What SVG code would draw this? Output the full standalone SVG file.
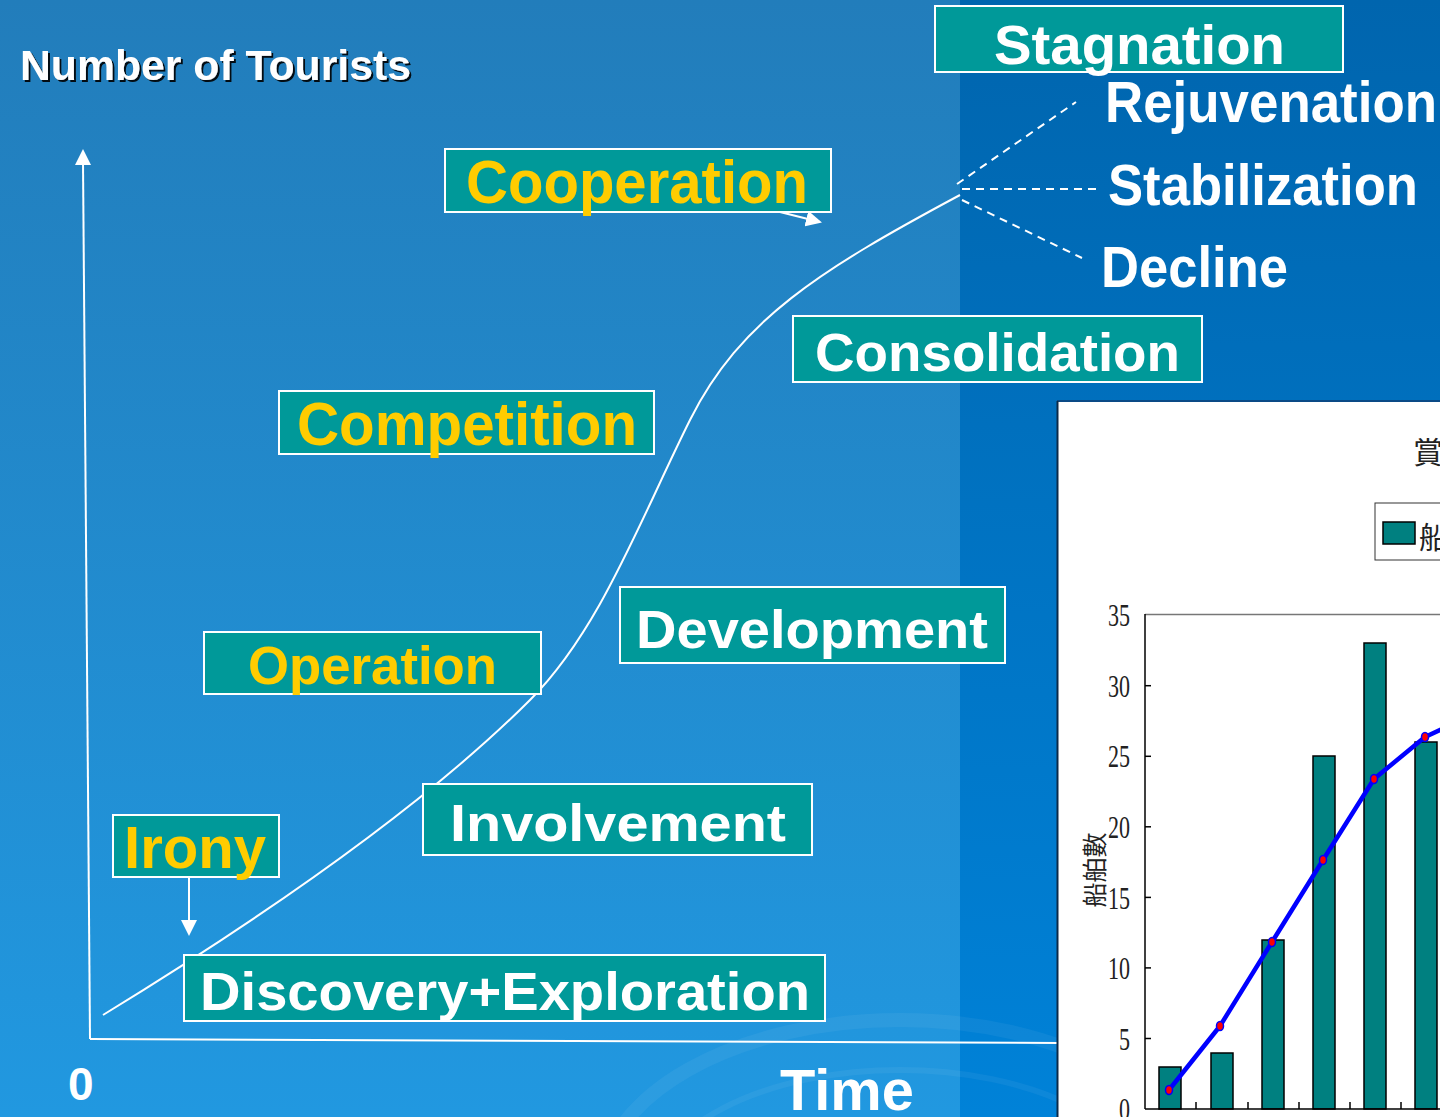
<svg xmlns="http://www.w3.org/2000/svg" width="1440" height="1117" viewBox="0 0 1440 1117">
  <defs>
    <linearGradient id="bgLeft" x1="0" y1="0" x2="0" y2="1">
      <stop offset="0" stop-color="#227DBB"/>
      <stop offset="1" stop-color="#2198E0"/>
    </linearGradient>
    <linearGradient id="bgRight" x1="0" y1="0" x2="0" y2="1">
      <stop offset="0" stop-color="#0065AE"/>
      <stop offset="1" stop-color="#0082D8"/>
    </linearGradient>
    <marker id="arrow" viewBox="0 0 16 16" refX="14" refY="8" markerWidth="16" markerHeight="16" markerUnits="userSpaceOnUse" orient="auto">
      <path d="M0,0 L16,8 L0,16 Z" fill="#FFFFFF"/>
    </marker>
    <filter id="shadow" x="-5%" y="-20%" width="110%" height="150%">
      <feDropShadow dx="2" dy="2" stdDeviation="0.3" flood-color="#000000" flood-opacity="0.9"/>
    </filter>
  </defs>
  <style>
    .box { fill: #009999; stroke: #FFFFFF; stroke-width: 2; }
    .lbl { font-family: "Liberation Sans", Arial, sans-serif; font-weight: bold; }
    .yellow { fill: #FFCC00; }
    .white { fill: #FFFFFF; }
    .curve { fill: none; stroke: #FFFFFF; stroke-width: 2; }
    .dash { fill: none; stroke: #FFFFFF; stroke-width: 2; stroke-dasharray: 8 6; }
    .axis { fill: none; stroke: #FFFFFF; stroke-width: 2; }
    .bar { fill: #008080; stroke: #000000; stroke-width: 1.5; }
    .tick { stroke: #000000; stroke-width: 1.5; }
    .num { font-family: "Liberation Serif", "Times New Roman", serif; font-size: 32px; fill: #222222; }
    .cjk { font-family: "Noto Sans CJK TC", "Noto Sans CJK SC", sans-serif; fill: #222222; }
    .pt { fill: #FF0000; stroke: #0000FF; stroke-width: 1.5; }
  </style>

  <!-- background panels -->
  <rect x="0" y="0" width="960" height="1117" fill="url(#bgLeft)"/>
  <rect x="960" y="0" width="480" height="1117" fill="url(#bgRight)"/>
  <g fill="none" stroke="#FFFFFF">
    <ellipse cx="900" cy="1190" rx="300" ry="170" stroke-width="14" stroke-opacity="0.05"/>
    <ellipse cx="900" cy="1200" rx="250" ry="130" stroke-width="6" stroke-opacity="0.05"/>
  </g>

  <!-- axes -->
  <g id="axes">
    <line class="axis" x1="83" y1="162" x2="90" y2="1039"/>
    <path d="M83,149 L91,165 L75,165 Z" fill="#FFFFFF"/>
    <line class="axis" x1="90" y1="1039" x2="1060" y2="1043"/>
    <text class="lbl white" x="20" y="80" font-size="42" textLength="391" lengthAdjust="spacingAndGlyphs" filter="url(#shadow)">Number of Tourists</text>
    <text class="lbl white" x="68" y="1100" font-size="46">0</text>
    <text class="lbl white" x="780" y="1110" font-size="58" textLength="134" lengthAdjust="spacingAndGlyphs">Time</text>
  </g>

  <!-- connectors -->
  <g id="connectors">
    <path class="curve" d="M103,1015 C255,922 420,810 530,700 C600,630 640,520 690,420 C740,320 820,270 960,195"/>
    <line class="dash" x1="957" y1="184" x2="1076" y2="102"/>
    <line class="dash" x1="962" y1="189" x2="1096" y2="189"/>
    <line class="dash" x1="962" y1="200" x2="1082" y2="258"/>
    <line x1="189" y1="878" x2="189" y2="934" stroke="#FFFFFF" stroke-width="2" marker-end="url(#arrow)"/>
    <line x1="780" y1="212" x2="820" y2="222" stroke="#FFFFFF" stroke-width="2" marker-end="url(#arrow)"/>
  </g>

  <!-- stage boxes -->
  <g id="stagnation">
    <rect class="box" x="935" y="6" width="408" height="66"/>
    <text class="lbl white" x="994" y="64" font-size="56" textLength="291" lengthAdjust="spacingAndGlyphs">Stagnation</text>
  </g>
  <g id="rejuvenation">
    <text class="lbl white" x="1105" y="122" font-size="58" textLength="332" lengthAdjust="spacingAndGlyphs">Rejuvenation</text>
  </g>
  <g id="stabilization">
    <text class="lbl white" x="1108" y="205" font-size="58" textLength="310" lengthAdjust="spacingAndGlyphs">Stabilization</text>
  </g>
  <g id="decline">
    <text class="lbl white" x="1101" y="287" font-size="58" textLength="187" lengthAdjust="spacingAndGlyphs">Decline</text>
  </g>
  <g id="cooperation">
    <rect class="box" x="445" y="149" width="386" height="63"/>
    <text class="lbl yellow" x="466" y="203" font-size="62" textLength="342" lengthAdjust="spacingAndGlyphs">Cooperation</text>
  </g>
  <g id="consolidation">
    <rect class="box" x="793" y="316" width="409" height="66"/>
    <text class="lbl white" x="815" y="371" font-size="54" textLength="365" lengthAdjust="spacingAndGlyphs">Consolidation</text>
  </g>
  <g id="competition">
    <rect class="box" x="279" y="391" width="375" height="63"/>
    <text class="lbl yellow" x="297" y="445" font-size="62" textLength="340" lengthAdjust="spacingAndGlyphs">Competition</text>
  </g>
  <g id="development">
    <rect class="box" x="620" y="587" width="385" height="76"/>
    <text class="lbl white" x="636" y="648" font-size="54" textLength="352" lengthAdjust="spacingAndGlyphs">Development</text>
  </g>
  <g id="operation">
    <rect class="box" x="204" y="632" width="337" height="62"/>
    <text class="lbl yellow" x="248" y="684" font-size="54" textLength="249" lengthAdjust="spacingAndGlyphs">Operation</text>
  </g>
  <g id="involvement">
    <rect class="box" x="423" y="784" width="389" height="71"/>
    <text class="lbl white" x="450" y="841" font-size="52" textLength="336" lengthAdjust="spacingAndGlyphs">Involvement</text>
  </g>
  <g id="irony">
    <rect class="box" x="113" y="815" width="166" height="62"/>
    <text class="lbl yellow" x="124" y="868" font-size="60" textLength="142" lengthAdjust="spacingAndGlyphs">Irony</text>
  </g>
  <g id="discovery-exploration">
    <rect class="box" x="184" y="955" width="641" height="66"/>
    <text class="lbl white" x="200" y="1010" font-size="53" textLength="610" lengthAdjust="spacingAndGlyphs">Discovery+Exploration</text>
  </g>

  <!-- inset bar chart: vessel counts -->
  <g id="vessel-chart">
    <rect x="1057" y="401" width="390" height="720" fill="#FFFFFF"/>
    <line x1="1057" y1="401" x2="1440" y2="401" stroke="#0A4A86" stroke-width="2"/>
    <line x1="1057.5" y1="401" x2="1057.5" y2="1117" stroke="#0C2A48" stroke-width="2"/>
    <text class="cjk" x="1413" y="463" font-size="30">賞鯨</text>
    <rect x="1375" y="503" width="80" height="57" fill="#FFFFFF" stroke="#333333" stroke-width="1"/>
    <rect x="1383" y="522" width="32" height="22" fill="#008080" stroke="#000000" stroke-width="1.5"/>
    <text class="cjk" x="1419" y="548" font-size="30">船</text>
    <!-- plot frame -->
    <line x1="1145" y1="614.5" x2="1440" y2="614.5" stroke="#777777" stroke-width="1.5"/>
    <line x1="1145" y1="614" x2="1145" y2="1109" stroke="#000000" stroke-width="1.5"/>
    <!-- bars -->
    <rect class="bar" x="1159" y="1067" width="22" height="42"/>
    <rect class="bar" x="1211" y="1053" width="22" height="56"/>
    <rect class="bar" x="1262" y="940" width="22" height="169"/>
    <rect class="bar" x="1313" y="756" width="22" height="353"/>
    <rect class="bar" x="1364" y="643" width="22" height="466"/>
    <rect class="bar" x="1415" y="742" width="22" height="367"/>
    <line x1="1145" y1="1109" x2="1440" y2="1109" stroke="#000000" stroke-width="1.5"/>
    <!-- ticks -->
    <g class="tick">
      <line x1="1145" y1="685.7" x2="1151" y2="685.7"/>
      <line x1="1145" y1="756.3" x2="1151" y2="756.3"/>
      <line x1="1145" y1="826.8" x2="1151" y2="826.8"/>
      <line x1="1145" y1="897.4" x2="1151" y2="897.4"/>
      <line x1="1145" y1="967.9" x2="1151" y2="967.9"/>
      <line x1="1145" y1="1038.5" x2="1151" y2="1038.5"/>
      <line x1="1196" y1="1109" x2="1196" y2="1102"/>
      <line x1="1248" y1="1109" x2="1248" y2="1102"/>
      <line x1="1299" y1="1109" x2="1299" y2="1102"/>
      <line x1="1350" y1="1109" x2="1350" y2="1102"/>
      <line x1="1401" y1="1109" x2="1401" y2="1102"/>
    </g>
    <!-- value labels -->
    <g class="num" text-anchor="end">
      <text x="1130" y="626" textLength="22" lengthAdjust="spacingAndGlyphs">35</text>
      <text x="1130" y="697" textLength="22" lengthAdjust="spacingAndGlyphs">30</text>
      <text x="1130" y="767" textLength="22" lengthAdjust="spacingAndGlyphs">25</text>
      <text x="1130" y="838" textLength="22" lengthAdjust="spacingAndGlyphs">20</text>
      <text x="1130" y="909" textLength="22" lengthAdjust="spacingAndGlyphs">15</text>
      <text x="1130" y="979" textLength="22" lengthAdjust="spacingAndGlyphs">10</text>
      <text x="1130" y="1050" textLength="11" lengthAdjust="spacingAndGlyphs">5</text>
      <text x="1130" y="1120" textLength="11" lengthAdjust="spacingAndGlyphs">0</text>
    </g>
    <text class="cjk" font-size="25" text-anchor="middle" transform="translate(1104,870) rotate(-90)">船舶數</text>
    <!-- cumulative line -->
    <polyline points="1169,1090 1220,1026 1272,942 1323,860 1374,779 1425,737 1442,729" fill="none" stroke="#0000FF" stroke-width="4.5" stroke-linejoin="round"/>
    <g>
      <ellipse class="pt" cx="1169" cy="1090" rx="3.5" ry="4.5"/>
      <ellipse class="pt" cx="1220" cy="1026" rx="3.5" ry="4.5"/>
      <ellipse class="pt" cx="1272" cy="942" rx="3.5" ry="4.5"/>
      <ellipse class="pt" cx="1323" cy="860" rx="3.5" ry="4.5"/>
      <ellipse class="pt" cx="1374" cy="779" rx="3.5" ry="4.5"/>
      <ellipse class="pt" cx="1425" cy="737" rx="3.5" ry="4.5"/>
    </g>
  </g>
</svg>
